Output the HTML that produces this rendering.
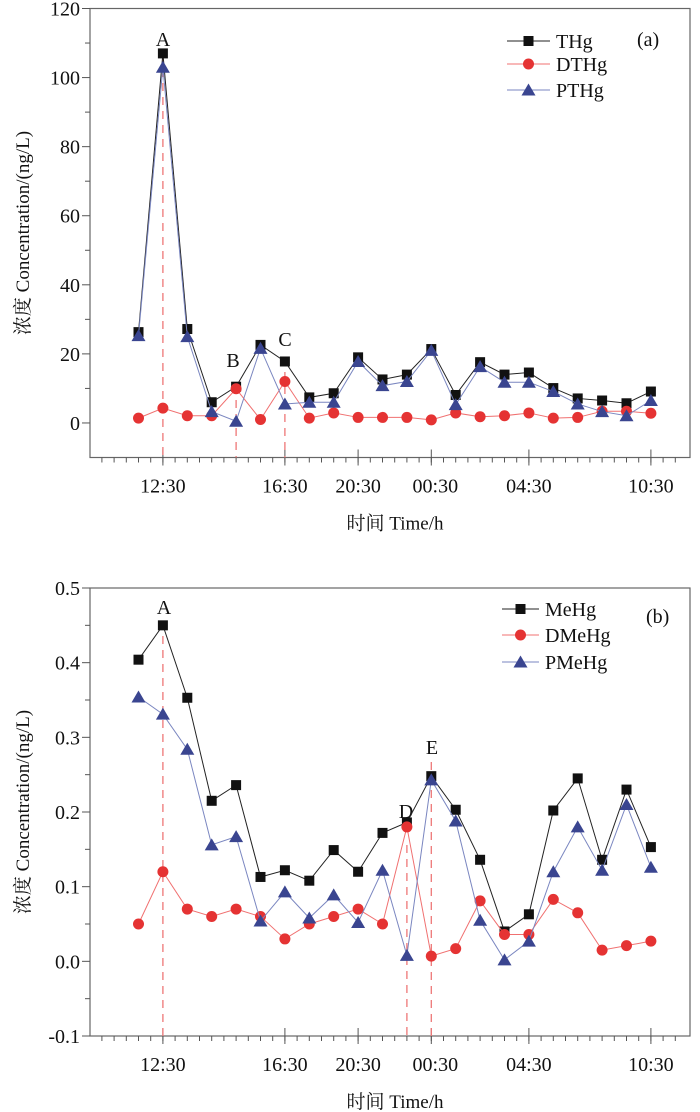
<!DOCTYPE html>
<html><head><meta charset="utf-8"><style>
html,body{margin:0;padding:0;background:#fff;}
svg{display:block;font-family:"Liberation Serif","Noto Serif CJK SC","Noto Sans CJK SC",serif;}
</style></head><body>
<svg id="chart" width="700" height="1112"></svg>
<script>
const categoriesCount = 22;
const xTickLabels = ["12:30","16:30","20:30","00:30","04:30","10:30"];
const xTickIndex = [1,6,9,12,16,21];
const thg  = [26.3,107,27.2,6,10.5,22.6,17.8,7.4,8.6,19,12.6,14,21.4,8.1,17.6,14,14.6,10.1,7.1,6.5,5.7,9.1];
const dthg = [1.4,4.3,2.1,2.1,9.9,1,12,1.4,2.9,1.6,1.6,1.6,0.9,2.9,1.8,2.1,2.9,1.4,1.6,3.4,3.4,2.8];
const pthg = [25.3,103,25,3.3,0.5,21.6,5.5,6,6,17.8,10.8,12,21,5.3,16.3,11.8,11.8,9.1,5.5,3.3,2.1,6.5];
const mehg  = [0.404,0.450,0.353,0.215,0.236,0.113,0.122,0.108,0.149,0.120,0.172,0.186,0.248,0.203,0.136,0.040,0.063,0.202,0.245,0.136,0.230,0.153];
const dmehg = [0.050,0.120,0.070,0.060,0.070,0.060,0.030,0.050,0.060,0.070,0.050,0.180,0.007,0.017,0.081,0.036,0.036,0.083,0.065,0.015,0.021,0.027];
const pmehg = [0.354,0.331,0.284,0.156,0.167,0.054,0.093,0.058,0.089,0.052,0.122,0.008,0.243,0.188,0.055,0.002,0.027,0.120,0.180,0.122,0.210,0.126];
const yTicksA = [0,20,40,60,80,100,120];
const yTicksB = [-0.1,0.0,0.1,0.2,0.3,0.4,0.5];

const NS="http://www.w3.org/2000/svg";
const svg=document.getElementById('chart');
function mk(tag,attrs,parent,text){const e=document.createElementNS(NS,tag);for(const k in attrs)e.setAttribute(k,attrs[k]);if(text!==undefined)e.textContent=text;(parent||svg).appendChild(e);return e;}
const X0=90,X1=690;
function xs(i){return 138.5+i*24.4;}

function panel(cfg){
  const g=mk('g',{});
  
  
  const ys=v=>cfg.y0+(v-cfg.ymin)/(cfg.ymax-cfg.ymin)*(cfg.top-cfg.y0);
  const f=mk('rect',{x:X0,y:cfg.top,width:X1-X0,height:cfg.y0-cfg.top,fill:'none',stroke:'#666','stroke-width':1.2},g);
  
  cfg.yt.forEach((v,k)=>{
    const y=ys(v);
    mk('line',{x1:X0-8,x2:X0,y1:y,y2:y,stroke:'#555'},g);
    if(k<cfg.yt.length-1){const ym=ys(v+(cfg.yt[1]-cfg.yt[0])/2);mk('line',{x1:X0-5,x2:X0,y1:ym,y2:ym,stroke:'#555'},g);}
    const t=mk('text',{x:X0-10,y:y+7,'text-anchor':'end','font-size':20,fill:'#111'},g,cfg.fmt(v));
    
  });
  for(let h=-3;h<=44;h++){const x=xs(h/2);if(x<X0||x>X1)continue;mk('line',{x1:x,x2:x,y1:cfg.y0,y2:cfg.y0+5,stroke:'#555'},g);}
  xTickIndex.forEach((idx,k)=>{const x=xs(idx);mk('line',{x1:x,x2:x,y1:cfg.y0-8,y2:cfg.y0+8,stroke:'#555'},g);
    const t=mk('text',{x:x+(idx===12?4:0),y:cfg.y0+35,'text-anchor':'middle','font-size':20,fill:'#111'},g,xTickLabels[k]);
    });
  const xt=mk('text',{x:395,y:cfg.y0+72,'text-anchor':'middle','font-size':19,fill:'#111'},g,'时间 Time/h');
  
  const yc=(cfg.top+cfg.y0)/2;
  const yt=mk('text',{x:0,y:0,'text-anchor':'middle','font-size':19,fill:'#111',transform:`translate(29,${yc}) rotate(-90)`},g,'浓度 Concentration/(ng/L)');
  
  cfg.dashes.forEach(d=>{const l=mk('line',{x1:xs(d[0]),x2:xs(d[0]),y1:d[1],y2:cfg.y0,stroke:'#ee7777','stroke-width':1.3,'stroke-dasharray':'8,6'},g);
    });
  cfg.notes.forEach(n=>{const t=mk('text',{x:n[1],y:n[2],'text-anchor':'middle','font-size':20,fill:'#111'},g,n[0]);
    });
  cfg.series.forEach(s=>{
    const sg=mk('g',{},g);
    
    mk('polyline',{points:s.data.map((v,i)=>xs(i)+','+ys(v)).join(' '),fill:'none',stroke:s.line,'stroke-width':1},sg);
    s.data.forEach((v,i)=>{const m=marker(s.shape,xs(i),ys(v),s.fill,sg);
      });
  });
  cfg.series.forEach((s,k)=>{
    const y=cfg.leg.y[k];
    const lg=mk('g',{},g);
    
    mk('line',{x1:cfg.leg.x1,x2:cfg.leg.x2,y1:y,y2:y,stroke:s.line},lg);
    marker(s.shape,(cfg.leg.x1+cfg.leg.x2)/2,y,s.fill,lg);
    mk('text',{x:cfg.leg.x2+6,y:y+7,'font-size':20,fill:'#111'},lg,s.label);
  });
  const pl=mk('text',{x:cfg.pan[0],y:cfg.pan[1],'font-size':20,fill:'#111'},g,cfg.panel);
  
}
function marker(shape,x,y,fill,p){
  if(shape==='sq')return mk('rect',{x:x-5,y:y-5,width:10,height:10,fill:fill},p);
  if(shape==='ci')return mk('circle',{cx:x,cy:y,r:5.5,fill:fill},p);
  return mk('polygon',{points:`${x},${y-6.5} ${x+7},${y+5.5} ${x-7},${y+5.5}`,fill:fill},p);
}
panel({name:'panel-a-total-mercury',top:8.5,y0:457.5,ymin:-10,ymax:120,yt:yTicksA,fmt:v=>String(v),
  dashes:[[1,55],[4,400],[6,372]],notes:[['A',163,46],['B',233,367],['C',285,346]],
  series:[{label:'THg',data:thg,shape:'sq',fill:'#111',line:'#222'},
          {label:'DTHg',data:dthg,shape:'ci',fill:'#e53333',line:'#f07070'},
          {label:'PTHg',data:pthg,shape:'tr',fill:'#3a4590',line:'#7a86c0'}],
  leg:{x1:507,x2:550,y:[41,64,90]},panel:'(a)',pan:[637,46]});
panel({name:'panel-b-methylmercury',top:588,y0:1036,ymin:-0.1,ymax:0.5,yt:yTicksB,fmt:v=>v.toFixed(1),
  dashes:[[1,622],[11,845],[12,762]],notes:[['A',164,614],['D',406,818],['E',432,754]],
  series:[{label:'MeHg',data:mehg,shape:'sq',fill:'#111',line:'#222'},
          {label:'DMeHg',data:dmehg,shape:'ci',fill:'#e53333',line:'#f07070'},
          {label:'PMeHg',data:pmehg,shape:'tr',fill:'#3a4590',line:'#7a86c0'}],
  leg:{x1:502,x2:539,y:[609,635,662]},panel:'(b)',pan:[646,623]});
</script>
</body></html>
